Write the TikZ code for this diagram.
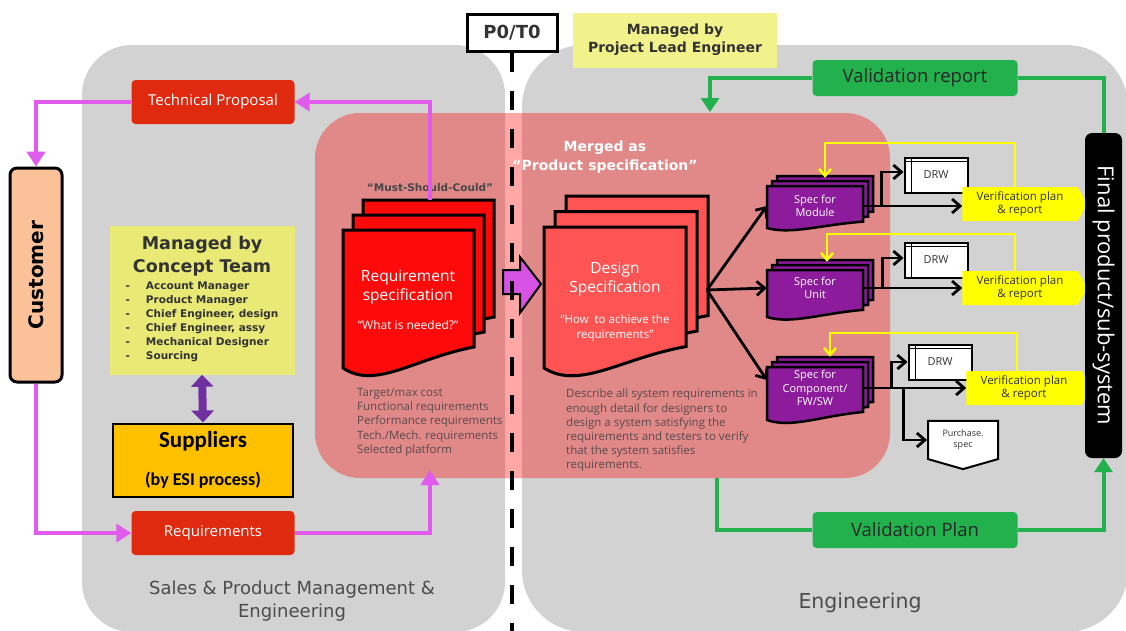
\documentclass[tikz,border=0pt]{standalone}
\usepackage{fontspec}
\setmainfont{Open Sans}
\newfontfamily\vfont{DejaVu Sans}
\newfontfamily\cfont{Carlito}
\usetikzlibrary{arrows.meta,positioning,shapes.symbols}
\definecolor{PanelGray}{HTML}{D2D2D2}
\definecolor{BoxRed}{HTML}{E02A10}
\definecolor{LinkPink}{HTML}{E05AEC}
\definecolor{ConceptYellow}{HTML}{E9E976}
\definecolor{LeadYellow}{HTML}{F2F28C}
\definecolor{SupplierGold}{HTML}{FFC000}
\definecolor{CustomerPeach}{HTML}{FBC29A}
\definecolor{ReqRed}{HTML}{FF0A0A}
\definecolor{DesignRed}{HTML}{FF5454}
\definecolor{SpecPurple}{HTML}{8C1C9C}
\definecolor{MergeViolet}{HTML}{D653E6}
\definecolor{DuoPurple}{HTML}{7030A0}
\definecolor{FlowGreen}{HTML}{22B14C}
\definecolor{VerifYellow}{HTML}{FFFF00}
\definecolor{InkGray}{HTML}{333333}
\definecolor{NoteGray}{HTML}{5A4A4A}
\newcommand{\fsz}[2]{\fontsize{#1}{#2}\selectfont}
% one sheet with a wavy bottom: x y w h fill
\newcommand{\docsheet}[5]{\filldraw[fill=#5] (#1,#2) -- ({#1+#3},#2) -- ({#1+#3},{#2+0.848*#4}) .. controls ({#1+0.55*#3},{#2+0.928*#4}) and ({#1+0.25*#3},{#2+1.16*#4}) .. (#1,{#2+#4}) -- cycle;}
% three sheets, back to front: x y w h dx dy fill
\newcommand{\docstack}[7]{%
  \pgfmathsetmacro\dsx{#1+2*#5}\pgfmathsetmacro\dsy{#2+2*#6}\docsheet{\dsx}{\dsy}{#3}{#4}{#7}%
  \pgfmathsetmacro\dsx{#1+#5}\pgfmathsetmacro\dsy{#2+#6}\docsheet{\dsx}{\dsy}{#3}{#4}{#7}%
  \docsheet{#1}{#2}{#3}{#4}{#7}}

\begin{document}
\begin{tikzpicture}[x=1pt,y=-1pt,
redbox/.style={fill=BoxRed,rounded corners=4pt,text=white,minimum width=163pt,minimum height=44pt,font=\fsz{15}{18}},
greenbox/.style={fill=FlowGreen,rounded corners=4pt,text=black!85,minimum width=205pt,minimum height=36pt,font=\fsz{18.5}{22}},
doctext/.style={text=white,align=center,font=\fsz{15.5}{19}},
spectext/.style={text=white,align=center,minimum width=96pt,inner sep=0pt,font=\fsz{11}{13.5}},
notes/.style={text=NoteGray,align=left,anchor=north west,inner sep=0pt,font=\fsz{11.5}{14.2}},
drw/.style={draw,line width=2pt,fill=white,text=InkGray,minimum width=63pt,minimum height=35pt,font=\fsz{11}{13},
  path picture={\draw[line width=1.5pt] ([xshift=7pt]path picture bounding box.north west) -- ([xshift=7pt]path picture bounding box.south west);
    \draw[line width=1.5pt] ([yshift=-4pt]path picture bounding box.north west) -- ([yshift=-4pt]path picture bounding box.north east);}},
verif/.style={shape=signal,signal to=east,signal pointer angle=120,fill=VerifYellow,text=InkGray,minimum width=125pt,minimum height=34pt,inner sep=0pt,align=center,font=\fsz{11.5}{13}},
pinkarrow/.style={LinkPink,line width=4.5pt,-{Triangle[width=18pt,length=15pt]}},
greenline/.style={FlowGreen,line width=4pt},
greenarrow/.style={greenline,-{Triangle[width=18pt,length=14pt]}},
blkarrow/.style={line width=2.8pt,-{Straight Barb[width=14pt,length=8pt]}},
yelarrow/.style={VerifYellow,line width=2.5pt,-{Straight Barb[width=12pt,length=7pt]}}
]
\useasboundingbox (0,0) rectangle (1126,630);

% the two areas and the merged zone
\fill[PanelGray,rounded corners=50pt] (82,45) rectangle (505,632);
\fill[PanelGray,rounded corners=62pt] (522,45) rectangle (1128,632);
\fill[red,opacity=0.35,rounded corners=45pt] (315,113) rectangle (890,478);

\filldraw[fill=MergeViolet,line width=2pt] (503,270) -- (520,270) -- (520,257) -- (541,284) -- (520,313) -- (520,294) -- (503,294) -- cycle;

\node[draw,line width=3pt,fill=white,minimum width=90pt,minimum height=37pt,text=InkGray,font=\vfont\bfseries\fsz{18}{20}] (gate) at (512,33) {P0/T0};
\coordinate (gateend) at (512,632);
\draw[line width=4pt,dash pattern=on 19pt off 19pt] (gate.south) -- (gateend);

\node[fill=LeadYellow,minimum width=204pt,minimum height=55pt,align=center,text=InkGray,font=\vfont\bfseries\fsz{14}{18}] (lead) at (675,40) {Managed by\\Project Lead Engineer};

\node[text=black!70,align=center,font=\vfont\fsz{18}{23}] (salesname) at (292,601) {Sales \& Product Management \&\\Engineering};
\node[text=black!70,font=\vfont\fsz{20.5}{24}] (engname) at (860,603) {Engineering};

% left side
\node[draw,line width=3pt,fill=CustomerPeach,rounded corners=7pt,rotate=90,minimum width=214pt,minimum height=52pt,font=\vfont\bfseries\fsz{20}{22}] (cust) at (36,275) {Customer};
\node[redbox] (techprop) at (213,102) {Technical Proposal};
\node[redbox] (reqs) at (213,533) {Requirements};
\node[fill=ConceptYellow,minimum width=185pt,minimum height=149pt,align=center,text=InkGray,inner sep=0pt,font=\vfont\bfseries\fsz{17.5}{23}] (concept) at (202,300) {Managed by\\Concept Team\\[2pt]\fsz{10.5}{14}\begin{tabular}{@{}l@{\hspace{16pt}}l@{}}
  -&Account Manager\\-&Product Manager\\-&Chief Engineer, design\\-&Chief Engineer, assy\\-&Mechanical Designer\\-&Sourcing
  \end{tabular}};
\node[draw,line width=2pt,fill=SupplierGold,minimum width=180pt,minimum height=73pt,align=center,font=\cfont\bfseries] (supp) at (203,460) {\fsz{23}{26}Suppliers\\[20pt]\fsz{18}{20}(by ESI process)};
\draw[DuoPurple,line width=8pt,{Triangle[width=22pt,length=12pt]}-{Triangle[width=22pt,length=12pt]}] (concept.south) -- (supp.north);

% requirement specification
\begin{scope}[line width=3pt]
\docstack{343}{230}{131}{138}{10}{-15}{ReqRed}
\end{scope}
\node[doctext] (reqspec) at (408,300) {Requirement\\specification\\[10pt]\fsz{12}{14}“What is needed?”};
\node[text=InkGray!90,font=\vfont\bfseries\fsz{10.5}{12}] (msc) at (430,188) {“Must-Should-Could”};
\node[notes] (reqnotes) at (357,388) {Target/max cost\\Functional requirements\\Performance requirements\\Tech./Mech. requirements\\Selected platform};
\coordinate (reqtop) at (430,200);
\coordinate (reqin) at (430,470);

% design specification
\begin{scope}[line width=3pt]
\docstack{544}{227}{142}{141}{11}{-15.5}{DesignRed}
\end{scope}
\node[doctext] (designspec) at (615,302) {Design\\Specification\\[12pt]\fsz{11.5}{15}“How~ to achieve the\\[-4pt]\fsz{11.5}{15}requirements”};
\node[text=white,align=center,font=\vfont\bfseries\fsz{14}{19}] (merged) at (605,157) {Merged as\\“Product specification”};
\node[notes] (designnotes) at (566,389) {Describe all system requirements in\\enough detail for designers to\\design a system satisfying the\\requirements and testers to verify\\that the system satisfies\\requirements.};
\coordinate (dsout) at (707,290);

% specs per level
\begin{scope}[line width=2.5pt]
\docstack{767}{186}{96}{42}{5}{-5}{SpecPurple}
\docstack{767}{270}{96}{47}{5}{-5}{SpecPurple}
\docstack{767}{367}{96}{53}{5}{-5}{SpecPurple}
\end{scope}
\node[spectext,minimum height=40pt] (modspec) at (815,206) {Spec for\\Module};
\node[spectext,minimum height=36pt] (unitspec) at (815,288) {Spec for\\Unit};
\node[spectext,minimum height=42pt] (compspec) at (815,388) {Spec for\\Component/\\FW/SW};

\node[drw] (drwmod) at (936,175) {DRW};
\node[drw] (drwunit) at (936,260) {DRW};
\node[drw] (drwcomp) at (940,362) {DRW};
\node[verif] (verifmod) at (1020,204) {Verification plan\\\& report};
\node[verif] (verifunit) at (1020,288) {Verification plan\\\& report};
\node[verif] (verifcomp) at (1024,388) {Verification plan\\\& report};
\node[shape=signal,signal to=south,signal pointer angle=148,draw,line width=2pt,fill=white,minimum width=70pt,minimum height=44pt,inner sep=0pt,align=center,text=InkGray,font=\fsz{9}{11}] (purch) at (963,440) {Purchase.\\spec};

% final product and validation
\node[fill=black,rounded corners=7pt,rotate=-90,minimum width=325pt,minimum height=37pt,text=white,font=\fsz{22}{24}] (final) at (1103.5,295.5) {Final product/sub-system};
\node[greenbox] (valrep) at (915,78) {Validation report};
\node[greenbox] (valplan) at (915,530) {Validation Plan};
\coordinate (valtip) at (710,112);
\coordinate (valfrom) at (717,478);

% connectors
\draw[pinkarrow] (techprop.west) -| (cust.east);
\draw[pinkarrow] (reqtop) |- (techprop.east);
\draw[pinkarrow] (cust.west) |- (reqs.west);
\draw[pinkarrow] (reqs.east) -| (reqin);

\draw[blkarrow] (dsout) -- (modspec.west);
\draw[blkarrow] (dsout) -- (unitspec.west);
\draw[blkarrow] (dsout) -- ([yshift=8pt]compspec.west);

\draw[blkarrow] (modspec.east) -- (modspec.east -| verifmod.west);
\draw[blkarrow] ([xshift=18pt]modspec.east) |- ([yshift=3pt]drwmod.west);
\draw[blkarrow] (unitspec.east) -- (unitspec.east -| verifunit.west);
\draw[blkarrow] ([xshift=19pt]unitspec.east) |- ([yshift=2pt]drwunit.west);
\draw[blkarrow] (compspec.east) -- (compspec.east -| verifcomp.west);
\draw[blkarrow] ([xshift=28pt]compspec.east) |- (drwcomp.west);
\draw[blkarrow] ([xshift=40pt]compspec.east) |- (purch.west);

\draw[yelarrow] ([xshift=-5pt]verifmod.north) |- ([xshift=10pt,yshift=43pt]modspec.north) -- ([xshift=10pt,yshift=8pt]modspec.north);
\draw[yelarrow] ([xshift=-5pt]verifunit.north) |- ([xshift=12pt,yshift=36pt]unitspec.north) -- ([xshift=12pt,yshift=8pt]unitspec.north);
\draw[yelarrow] ([xshift=-7pt]verifcomp.north) |- ([xshift=15pt,yshift=34pt]compspec.north) -- ([xshift=15pt,yshift=10pt]compspec.north);

\draw[greenline] (final.west) |- (valrep.east);
\draw[greenarrow] (valrep.west) -| (valtip);
\draw[greenline] (valfrom) |- (valplan.west);
\draw[greenarrow] (valplan.east) -| (final.east);
\end{tikzpicture}
\end{document}
